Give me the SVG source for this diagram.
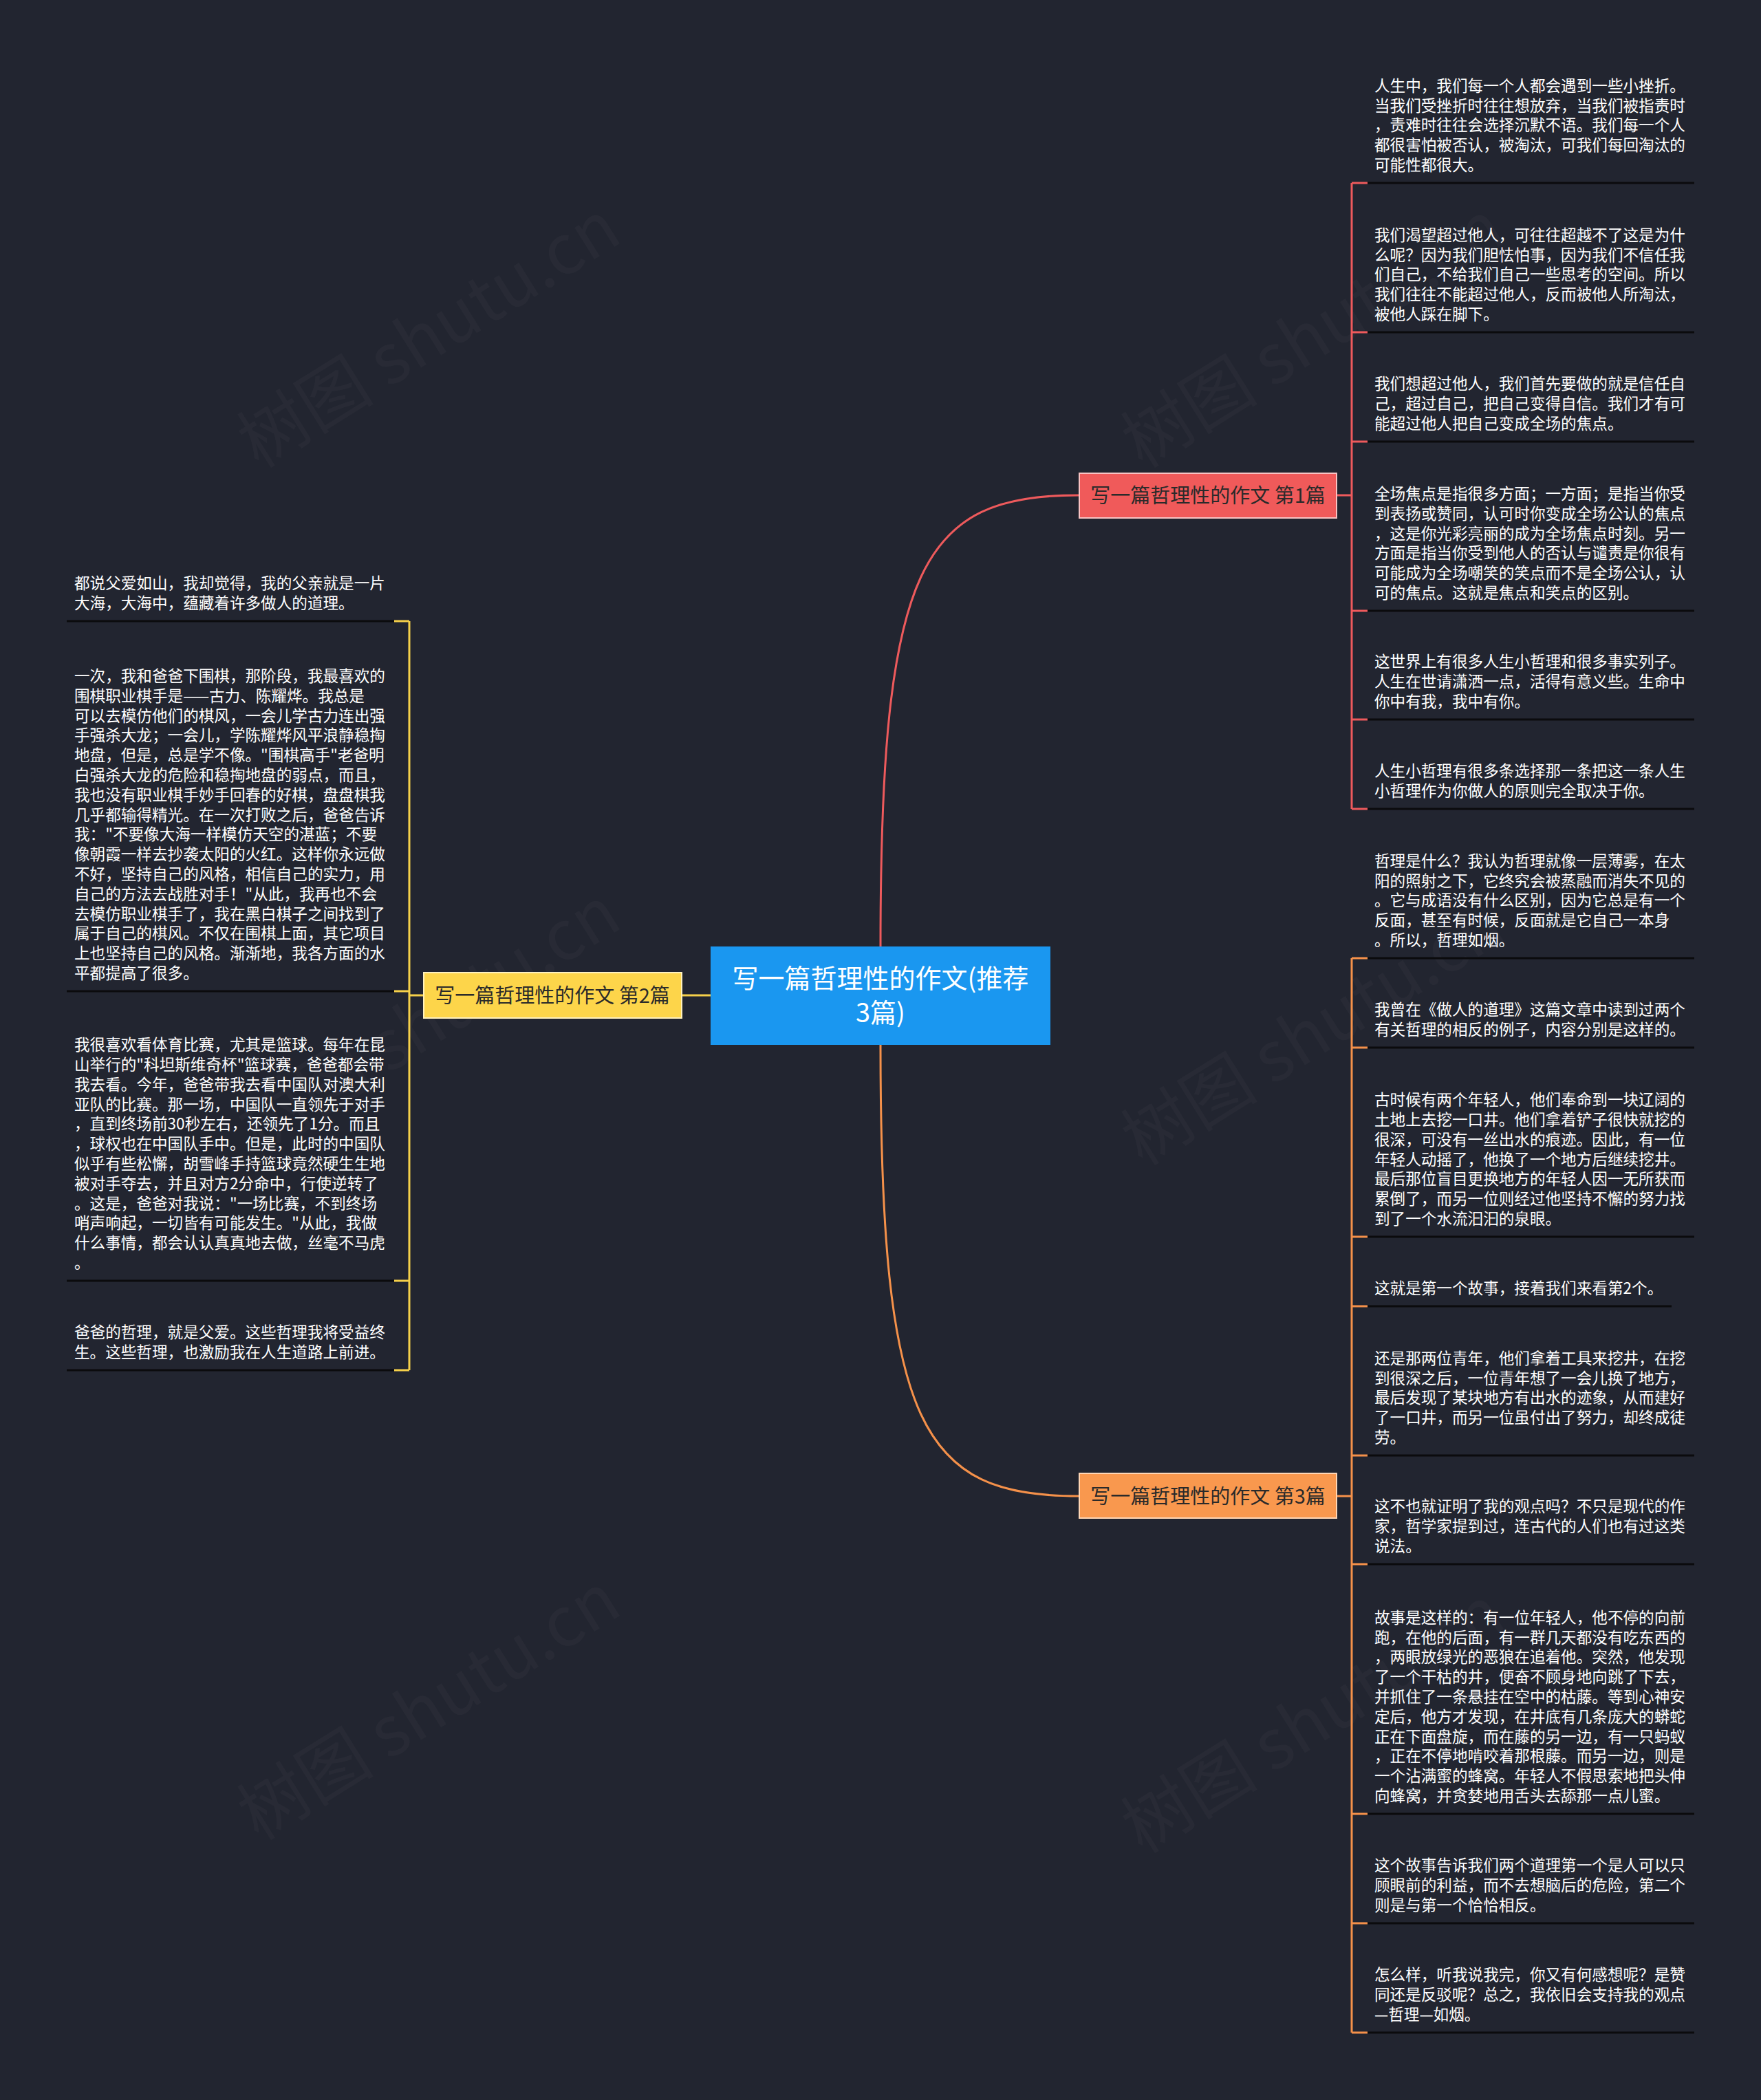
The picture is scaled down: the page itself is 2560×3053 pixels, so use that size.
<svg xmlns="http://www.w3.org/2000/svg" width="2560" height="3053" viewBox="0 0 2560 3053">
<style>
text{font-family:"Noto Sans CJK SC","Noto Sans",sans-serif;}
.leaf{font-size:22.6px;fill:#ffffff;}
.ul{stroke:#0b0b0d;stroke-width:3;}
.wm{font-size:100px;fill:#ffffff;fill-opacity:0.028;}
.c-red{stroke:#ee5a5c;stroke-width:3;fill:none;}
.c-yel{stroke:#f5d04a;stroke-width:3;fill:none;}
.c-org{stroke:#f5914a;stroke-width:3;fill:none;}
.btxt{font-size:29px;fill:#2a2a2a;text-anchor:middle;}
</style>
<rect width="2560" height="3053" fill="#222530"/>
<g id="watermarks">
<text class="wm" transform="translate(642,516) rotate(-32)" text-anchor="middle">树图 shutu.cn</text>
<text class="wm" transform="translate(1927,516) rotate(-32)" text-anchor="middle">树图 shutu.cn</text>
<text class="wm" transform="translate(642,1513) rotate(-32)" text-anchor="middle">树图 shutu.cn</text>
<text class="wm" transform="translate(1927,1530) rotate(-32)" text-anchor="middle">树图 shutu.cn</text>
<text class="wm" transform="translate(642,2511) rotate(-32)" text-anchor="middle">树图 shutu.cn</text>
<text class="wm" transform="translate(1927,2530) rotate(-32)" text-anchor="middle">树图 shutu.cn</text>
</g>
<g id="connectors">
<path class="c-red" d="M1280,1376 C1280,820 1340,720 1568,720"/>
<path class="c-org" d="M1280,1519 C1280,2075 1340,2175 1568,2175"/>
<path class="c-yel" d="M1033,1447 L992,1447"/>
<path class="c-red" d="M1944,720 L1965,720 M1965,266 L1965,1176 M1965,266 L1988,266 M1965,483 L1988,483 M1965,642 L1988,642 M1965,888 L1988,888 M1965,1046 L1988,1046 M1965,1176 L1988,1176"/>
<path class="c-org" d="M1944,2175 L1965,2175 M1965,1393 L1965,2955 M1965,1393 L1988,1393 M1965,1523 L1988,1523 M1965,1798 L1988,1798 M1965,1899 L1988,1899 M1965,2116 L1988,2116 M1965,2274 L1988,2274 M1965,2637 L1988,2637 M1965,2796 L1988,2796 M1965,2955 L1988,2955"/>
<path class="c-yel" d="M615,1447 L595,1447 M595,903 L595,1992 M595,903 L573,903 M595,1441 L573,1441 M595,1862 L573,1862 M595,1992 L573,1992"/>
</g>
<g id="center">
<rect x="1033" y="1376" width="494" height="143" fill="#1a97f0"/>
<text x="1280" y="1436" font-size="38" fill="#ffffff" text-anchor="middle">写一篇哲理性的作文(推荐</text>
<text x="1280" y="1486" font-size="38" fill="#ffffff" text-anchor="middle">3篇)</text>
</g>
<g id="branch1">
<rect x="1569" y="688" width="374" height="65" fill="#f05a5a" stroke="#f9c3c3" stroke-width="2"/>
<text class="btxt" x="1756" y="731">写一篇哲理性的作文 第1篇</text>
</g>
<g id="branch2">
<rect x="616" y="1414" width="375" height="66" fill="#fdd54a" stroke="#fff1bd" stroke-width="2"/>
<text class="btxt" x="803" y="1458">写一篇哲理性的作文 第2篇</text>
</g>
<g id="branch3">
<rect x="1569" y="2142" width="374" height="65" fill="#f9984e" stroke="#ffd6b5" stroke-width="2"/>
<text class="btxt" x="1756" y="2186">写一篇哲理性的作文 第3篇</text>
</g>
<g id="r1">
<text class="leaf" y="132.8"><tspan x="1998">人生中，我们每一个人都会遇到一些小挫折。</tspan><tspan x="1998" dy="28.8">当我们受挫折时往往想放弃，当我们被指责时</tspan><tspan x="1998" dy="28.8">，责难时往往会选择沉默不语。我们每一个人</tspan><tspan x="1998" dy="28.8">都很害怕被否认，被淘汰，可我们每回淘汰的</tspan><tspan x="1998" dy="28.8">可能性都很大。</tspan></text>
<line class="ul" x1="1988" y1="266" x2="2463" y2="266"/>
</g>
<g id="r2">
<text class="leaf" y="349.8"><tspan x="1998">我们渴望超过他人，可往往超越不了这是为什</tspan><tspan x="1998" dy="28.8">么呢？因为我们胆怯怕事，因为我们不信任我</tspan><tspan x="1998" dy="28.8">们自己，不给我们自己一些思考的空间。所以</tspan><tspan x="1998" dy="28.8">我们往往不能超过他人，反而被他人所淘汰，</tspan><tspan x="1998" dy="28.8">被他人踩在脚下。</tspan></text>
<line class="ul" x1="1988" y1="483" x2="2463" y2="483"/>
</g>
<g id="r3">
<text class="leaf" y="566.4"><tspan x="1998">我们想超过他人，我们首先要做的就是信任自</tspan><tspan x="1998" dy="28.8">己，超过自己，把自己变得自信。我们才有可</tspan><tspan x="1998" dy="28.8">能超过他人把自己变成全场的焦点。</tspan></text>
<line class="ul" x1="1988" y1="642" x2="2463" y2="642"/>
</g>
<g id="r4">
<text class="leaf" y="726"><tspan x="1998">全场焦点是指很多方面；一方面；是指当你受</tspan><tspan x="1998" dy="28.8">到表扬或赞同，认可时你变成全场公认的焦点</tspan><tspan x="1998" dy="28.8">，这是你光彩亮丽的成为全场焦点时刻。另一</tspan><tspan x="1998" dy="28.8">方面是指当你受到他人的否认与谴责是你很有</tspan><tspan x="1998" dy="28.8">可能成为全场嘲笑的笑点而不是全场公认，认</tspan><tspan x="1998" dy="28.8">可的焦点。这就是焦点和笑点的区别。</tspan></text>
<line class="ul" x1="1988" y1="888" x2="2463" y2="888"/>
</g>
<g id="r5">
<text class="leaf" y="970.4"><tspan x="1998">这世界上有很多人生小哲理和很多事实列子。</tspan><tspan x="1998" dy="28.8">人生在世请潇洒一点，活得有意义些。生命中</tspan><tspan x="1998" dy="28.8">你中有我，我中有你。</tspan></text>
<line class="ul" x1="1988" y1="1046" x2="2463" y2="1046"/>
</g>
<g id="r6">
<text class="leaf" y="1129.2"><tspan x="1998">人生小哲理有很多条选择那一条把这一条人生</tspan><tspan x="1998" dy="28.8">小哲理作为你做人的原则完全取决于你。</tspan></text>
<line class="ul" x1="1988" y1="1176" x2="2463" y2="1176"/>
</g>
<g id="b1">
<text class="leaf" y="1259.8"><tspan x="1998">哲理是什么？我认为哲理就像一层薄雾，在太</tspan><tspan x="1998" dy="28.8">阳的照射之下，它终究会被蒸融而消失不见的</tspan><tspan x="1998" dy="28.8">。它与成语没有什么区别，因为它总是有一个</tspan><tspan x="1998" dy="28.8">反面，甚至有时候，反面就是它自己一本身</tspan><tspan x="1998" dy="28.8">。所以，哲理如烟。</tspan></text>
<line class="ul" x1="1988" y1="1393" x2="2463" y2="1393"/>
</g>
<g id="b2">
<text class="leaf" y="1476.2"><tspan x="1998">我曾在《做人的道理》这篇文章中读到过两个</tspan><tspan x="1998" dy="28.8">有关哲理的相反的例子，内容分别是这样的。</tspan></text>
<line class="ul" x1="1988" y1="1523" x2="2463" y2="1523"/>
</g>
<g id="b3">
<text class="leaf" y="1607.2"><tspan x="1998">古时候有两个年轻人，他们奉命到一块辽阔的</tspan><tspan x="1998" dy="28.8">土地上去挖一口井。他们拿着铲子很快就挖的</tspan><tspan x="1998" dy="28.8">很深，可没有一丝出水的痕迹。因此，有一位</tspan><tspan x="1998" dy="28.8">年轻人动摇了，他换了一个地方后继续挖井。</tspan><tspan x="1998" dy="28.8">最后那位盲目更换地方的年轻人因一无所获而</tspan><tspan x="1998" dy="28.8">累倒了，而另一位则经过他坚持不懈的努力找</tspan><tspan x="1998" dy="28.8">到了一个水流汩汩的泉眼。</tspan></text>
<line class="ul" x1="1988" y1="1798" x2="2463" y2="1798"/>
</g>
<g id="b4">
<text class="leaf" x="1998" y="1881">这就是第一个故事，接着我们来看第2个。</text>
<line class="ul" x1="1988" y1="1899" x2="2430" y2="1899"/>
</g>
<g id="b5">
<text class="leaf" y="1982.8"><tspan x="1998">还是那两位青年，他们拿着工具来挖井，在挖</tspan><tspan x="1998" dy="28.8">到很深之后，一位青年想了一会儿换了地方，</tspan><tspan x="1998" dy="28.8">最后发现了某块地方有出水的迹象，从而建好</tspan><tspan x="1998" dy="28.8">了一口井，而另一位虽付出了努力，却终成徒</tspan><tspan x="1998" dy="28.8">劳。</tspan></text>
<line class="ul" x1="1988" y1="2116" x2="2463" y2="2116"/>
</g>
<g id="b6">
<text class="leaf" y="2198.4"><tspan x="1998">这不也就证明了我的观点吗？不只是现代的作</tspan><tspan x="1998" dy="28.8">家，哲学家提到过，连古代的人们也有过这类</tspan><tspan x="1998" dy="28.8">说法。</tspan></text>
<line class="ul" x1="1988" y1="2274" x2="2463" y2="2274"/>
</g>
<g id="b7">
<text class="leaf" y="2359.8"><tspan x="1998">故事是这样的：有一位年轻人，他不停的向前</tspan><tspan x="1998" dy="28.8">跑，在他的后面，有一群几天都没有吃东西的</tspan><tspan x="1998" dy="28.8">，两眼放绿光的恶狼在追着他。突然，他发现</tspan><tspan x="1998" dy="28.8">了一个干枯的井，便奋不顾身地向跳了下去，</tspan><tspan x="1998" dy="28.8">并抓住了一条悬挂在空中的枯藤。等到心神安</tspan><tspan x="1998" dy="28.8">定后，他方才发现，在井底有几条庞大的蟒蛇</tspan><tspan x="1998" dy="28.8">正在下面盘旋，而在藤的另一边，有一只蚂蚁</tspan><tspan x="1998" dy="28.8">，正在不停地啃咬着那根藤。而另一边，则是</tspan><tspan x="1998" dy="28.8">一个沾满蜜的蜂窝。年轻人不假思索地把头伸</tspan><tspan x="1998" dy="28.8">向蜂窝，并贪婪地用舌头去舔那一点儿蜜。</tspan></text>
<line class="ul" x1="1988" y1="2637" x2="2463" y2="2637"/>
</g>
<g id="b8">
<text class="leaf" y="2720.4"><tspan x="1998">这个故事告诉我们两个道理第一个是人可以只</tspan><tspan x="1998" dy="28.8">顾眼前的利益，而不去想脑后的危险，第二个</tspan><tspan x="1998" dy="28.8">则是与第一个恰恰相反。</tspan></text>
<line class="ul" x1="1988" y1="2796" x2="2463" y2="2796"/>
</g>
<g id="b9">
<text class="leaf" y="2879.4"><tspan x="1998">怎么样，听我说我完，你又有何感想呢？是赞</tspan><tspan x="1998" dy="28.8">同还是反驳呢？总之，我依旧会支持我的观点</tspan><tspan x="1998" dy="28.8">—哲理—如烟。</tspan></text>
<line class="ul" x1="1988" y1="2955" x2="2463" y2="2955"/>
</g>
<g id="l1">
<text class="leaf" y="856.2"><tspan x="108">都说父爱如山，我却觉得，我的父亲就是一片</tspan><tspan x="108" dy="28.8">大海，大海中，蕴藏着许多做人的道理。</tspan></text>
<line class="ul" x1="97" y1="903" x2="573" y2="903"/>
</g>
<g id="l2">
<text class="leaf" y="991"><tspan x="108">一次，我和爸爸下围棋，那阶段，我最喜欢的</tspan><tspan x="108" dy="28.8">围棋职业棋手是——古力、陈耀烨。我总是</tspan><tspan x="108" dy="28.8">可以去模仿他们的棋风，一会儿学古力连出强</tspan><tspan x="108" dy="28.8">手强杀大龙；一会儿，学陈耀烨风平浪静稳掏</tspan><tspan x="108" dy="28.8">地盘，但是，总是学不像。"围棋高手"老爸明</tspan><tspan x="108" dy="28.8">白强杀大龙的危险和稳掏地盘的弱点，而且，</tspan><tspan x="108" dy="28.8">我也没有职业棋手妙手回春的好棋，盘盘棋我</tspan><tspan x="108" dy="28.8">几乎都输得精光。在一次打败之后，爸爸告诉</tspan><tspan x="108" dy="28.8">我："不要像大海一样模仿天空的湛蓝；不要</tspan><tspan x="108" dy="28.8">像朝霞一样去抄袭太阳的火红。这样你永远做</tspan><tspan x="108" dy="28.8">不好，坚持自己的风格，相信自己的实力，用</tspan><tspan x="108" dy="28.8">自己的方法去战胜对手！"从此，我再也不会</tspan><tspan x="108" dy="28.8">去模仿职业棋手了，我在黑白棋子之间找到了</tspan><tspan x="108" dy="28.8">属于自己的棋风。不仅在围棋上面，其它项目</tspan><tspan x="108" dy="28.8">上也坚持自己的风格。渐渐地，我各方面的水</tspan><tspan x="108" dy="28.8">平都提高了很多。</tspan></text>
<line class="ul" x1="97" y1="1441" x2="573" y2="1441"/>
</g>
<g id="l3">
<text class="leaf" y="1527.2"><tspan x="108">我很喜欢看体育比赛，尤其是篮球。每年在昆</tspan><tspan x="108" dy="28.8">山举行的"科坦斯维奇杯"篮球赛，爸爸都会带</tspan><tspan x="108" dy="28.8">我去看。今年，爸爸带我去看中国队对澳大利</tspan><tspan x="108" dy="28.8">亚队的比赛。那一场，中国队一直领先于对手</tspan><tspan x="108" dy="28.8">，直到终场前30秒左右，还领先了1分。而且</tspan><tspan x="108" dy="28.8">，球权也在中国队手中。但是，此时的中国队</tspan><tspan x="108" dy="28.8">似乎有些松懈，胡雪峰手持篮球竟然硬生生地</tspan><tspan x="108" dy="28.8">被对手夺去，并且对方2分命中，行使逆转了</tspan><tspan x="108" dy="28.8">。这是，爸爸对我说："一场比赛，不到终场</tspan><tspan x="108" dy="28.8">哨声响起，一切皆有可能发生。"从此，我做</tspan><tspan x="108" dy="28.8">什么事情，都会认认真真地去做，丝毫不马虎</tspan><tspan x="108" dy="28.8">。</tspan></text>
<line class="ul" x1="97" y1="1862" x2="573" y2="1862"/>
</g>
<g id="l4">
<text class="leaf" y="1945.2"><tspan x="108">爸爸的哲理，就是父爱。这些哲理我将受益终</tspan><tspan x="108" dy="28.8">生。这些哲理，也激励我在人生道路上前进。</tspan></text>
<line class="ul" x1="97" y1="1992" x2="573" y2="1992"/>
</g>
</svg>
